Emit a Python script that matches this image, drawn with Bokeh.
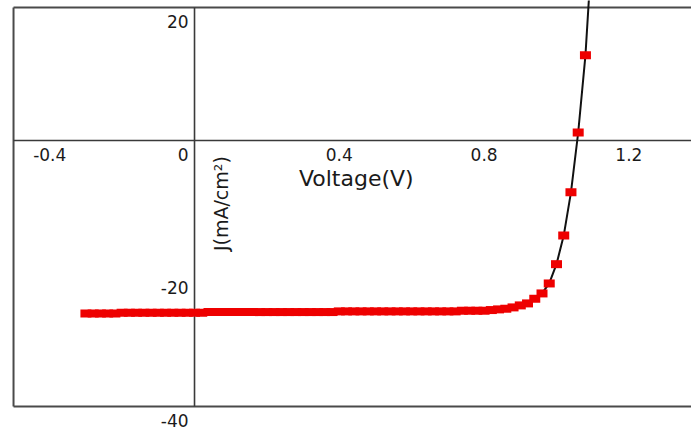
import math
from bokeh.plotting import figure
from bokeh.models import Range1d
from bokeh.embed import file_html
from bokeh.resources import INLINE
from bokeh.core.properties import value

# ---- data ----
voltage = [-0.30, -0.28, -0.26, -0.24, -0.22, -0.20, -0.18, -0.16, -0.14, -0.12,
           -0.10, -0.08, -0.06, -0.04, -0.02, 0.00, 0.02, 0.04, 0.06, 0.08,
           0.10, 0.12, 0.14, 0.16, 0.18, 0.20, 0.22, 0.24, 0.26, 0.28,
           0.30, 0.32, 0.34, 0.36, 0.38, 0.40, 0.42, 0.44, 0.46, 0.48,
           0.50, 0.52, 0.54, 0.56, 0.58, 0.60, 0.62, 0.64, 0.66, 0.68,
           0.70, 0.72, 0.74, 0.76, 0.78, 0.80, 0.82, 0.84, 0.86, 0.88,
           0.90, 0.92, 0.94, 0.96, 0.98, 1.00, 1.02, 1.04, 1.06, 1.08]
current = [-26.0, -26.0, -26.0, -26.0, -26.0, -25.9, -25.9, -25.9, -25.9, -25.9,
           -25.9, -25.9, -25.9, -25.9, -25.9, -25.9, -25.9, -25.8, -25.8, -25.8,
           -25.8, -25.8, -25.8, -25.8, -25.8, -25.8, -25.8, -25.8, -25.8, -25.8,
           -25.8, -25.8, -25.8, -25.8, -25.8, -25.7, -25.7, -25.7, -25.7, -25.7,
           -25.7, -25.7, -25.7, -25.7, -25.7, -25.7, -25.7, -25.7, -25.7, -25.7,
           -25.7, -25.7, -25.6, -25.6, -25.6, -25.6, -25.5, -25.4, -25.3, -25.1,
           -24.8, -24.5, -23.8, -23.0, -21.5, -18.6, -14.3, -7.8, 1.2, 12.8]
# fitted line continues past the last measured point (off the top of the frame)
fit_v = voltage + [1.10]
fit_j = current + [30.5]

x_tick_vals = [-0.4, 0.4, 0.8, 1.2]
x_tick_text = ["-0.4", "0.4", "0.8", "1.2"]
y_tick_vals = [20, 0, -20, -40]
y_tick_text = ["20", "0", "-20", "-40"]

# axis box limits, and the visible window around them (box sits inside the page)
X_MIN, X_MAX = -0.5, 1.373
Y_MIN, Y_MAX = -40, 20
X_VIEW = (-0.536, 1.373)
Y_VIEW = (-43.16, 21.05)

FONT = value("DejaVu Sans")
TXT = "#1a1a1a"

p = figure(width=691, height=427,
           x_range=Range1d(*X_VIEW), y_range=Range1d(*Y_VIEW),
           x_axis_location=None, y_axis_location=None,
           output_backend="svg", toolbar_location=None,
           min_border_left=0, min_border_right=0,
           min_border_top=0, min_border_bottom=0)
for g in p.grid:
    g.visible = False
p.outline_line_color = None
p.background_fill_color = "white"
p.border_fill_color = "white"

# frame box (left, top, bottom; right side is cut off in the reference)
frame_col = "#4a4a4a"
p.segment(x0=[X_MIN, X_MIN, X_MIN], y0=[Y_MIN, Y_MAX, Y_MIN],
          x1=[X_MIN, X_MAX, X_MAX], y1=[Y_MAX, Y_MAX, Y_MIN],
          line_color=frame_col, line_width=2)

# crossing axes through the origin
axis_col = "#3a3a3a"
p.segment(x0=[0, X_MIN], y0=[Y_MIN, 0], x1=[0, X_MAX], y1=[Y_MAX, 0],
          line_color=axis_col, line_width=1.6)

# data
p.line(fit_v, fit_j, line_color="#111111", line_width=2)
p.rect(voltage, current, width=11, height=8, width_units="screen", height_units="screen",
       fill_color="#ee0000", line_color=None)

# tick labels
p.text(x=x_tick_vals, y=[0] * len(x_tick_vals), text=x_tick_text,
       text_align="center", text_baseline="alphabetic", y_offset=14,
       text_font=FONT, text_font_size="17px", text_color=TXT)
p.text(x=[0] * len(y_tick_vals), y=y_tick_vals, text=y_tick_text,
       text_align="right", text_baseline="alphabetic", x_offset=-6, y_offset=14,
       text_font=FONT, text_font_size="17px", text_color=TXT)

# axis titles
p.text(x=[0.447], y=[0], text=["Voltage(V)"], text_align="center",
       text_baseline="alphabetic", y_offset=38,
       text_font=FONT, text_font_size="22px", text_color=TXT)
p.text(x=[0.074], y=[-9.5], text=["J(mA/cm²)"], angle=math.pi / 2,
       text_align="center", text_baseline="alphabetic",
       text_font=FONT, text_font_size="19px", text_color=TXT)

open("out.html", "w").write(file_html(p, INLINE))
